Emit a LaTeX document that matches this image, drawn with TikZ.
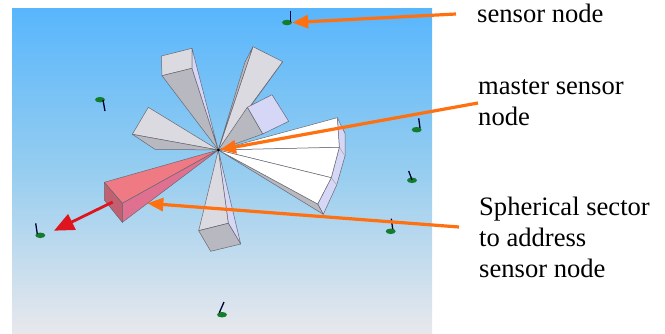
\documentclass[tikz,border=0pt]{standalone}
\usepackage{fontspec}
\setmainfont{Liberation Serif}
\usepackage{tikz}
\usetikzlibrary{arrows.meta,positioning,shapes.geometric}
\definecolor{cpoint}{RGB}{255,112,16}
\definecolor{cred}{RGB}{222,20,30}
\definecolor{cgreen}{RGB}{20,125,45}
\definecolor{cedge}{RGB}{105,105,115}
\definecolor{clight}{RGB}{218,218,224}
\definecolor{cdark}{RGB}{184,184,192}
\definecolor{cside}{RGB}{214,214,246}
\definecolor{skytop}{RGB}{88,182,252}
\definecolor{skymid}{RGB}{150,205,240}
\definecolor{skylow}{RGB}{232,232,236}
\tikzset{
  sky/.style={top color=skytop, bottom color=skylow, middle color=skymid, draw=none},
  ptarr/.style={-{Triangle[length=16pt,width=13pt]}, cpoint, line width=3.2pt},
  beam/.style={-{Triangle[length=20pt,width=17pt]}, cred, line width=2.8pt},
  lbl/.style={font=\fontsize{26.6}{31}\selectfont, align=left, anchor=west, inner sep=0pt},
  snode/.style={ellipse, fill=cgreen, inner sep=0pt, minimum width=10pt, minimum height=5.5pt},
  stem/.style={black!80!blue, line width=1.3pt},
  hubdot/.style={circle, fill=black, inner sep=0pt, minimum size=3pt},
  fl/.style={draw=cedge, line width=0.5pt, fill=clight, line join=round},
  fd/.style={fl, fill=cdark},
  fs/.style={fl, fill=cside},
  fw/.style={fl, fill=white},
}
\begin{document}
\begin{tikzpicture}[x=1pt,y=-1pt]
  \useasboundingbox (0,0) rectangle (665,333);
  \fill[sky] (12,8) rectangle (432,333);
  \coordinate (hub) at (218.3,150);
  % sectors around the master
  \draw[fl] (161.3,56) -- (192,48.3) -- (192,68.3) -- (162,75.7) -- cycle;
  \draw[fd] (hub) -- (162,75.7) -- (192,68.3) -- cycle;
  \draw[fs] (hub) -- (192,68.3) -- (192,48.3) -- cycle;
  \draw[fl] (hub) -- (253,46.7) -- (282.7,61.7) -- cycle;
  \draw[fd] (hub) -- (245,62) -- (253,46.7) -- cycle;
  \draw[fs] (hub) -- (282.7,61.7) -- (250,107) -- cycle;
  \draw[fs] (247.3,107.3) -- (272,94.7) -- (288.7,121.3) -- (262.7,134) -- cycle;
  \draw[fd] (hub) -- (247.3,107.3) -- (262.7,134) -- cycle;
  \draw[fl] (hub) -- (148.3,107.3) -- (132.3,134.3) -- cycle;
  \draw[fd] (hub) -- (132.3,134.3) -- (155,149.3) -- cycle;
  \draw[fs] (hub) -- (228.3,223.3) -- (240.7,244) -- cycle;
  \draw[fl] (hub) -- (198.7,230.7) -- (228.3,223.3) -- cycle;
  \draw[fd] (198.7,230.7) -- (228.3,223.3) -- (240.7,244) -- (210.7,251.3) -- cycle;
  % wide sector
  \draw[fs] (337.3,117.7) -- (345,133.3) -- (345,156) -- (336.7,185) -- (323.3,214.3) -- (317.7,204) -- (331.3,177.7) -- (339.3,147.3) -- cycle;
  \draw[cedge!60, line width=0.5pt] (339.3,147.3) -- (345,156) (331.3,177.7) -- (336.7,185);
  \draw[fd] (hub) -- (317.7,204) -- (323.3,214.3) -- cycle;
  \draw[fw] (hub) -- (337.3,117.7) -- (339.3,147.3) -- cycle;
  \draw[fw] (hub) -- (339.3,147.3) -- (331.3,177.7) -- cycle;
  \draw[fw] (hub) -- (331.3,177.7) -- (317.7,204) -- cycle;
  % addressed sector
  \draw[draw=cedge, line width=0.5pt, fill={rgb,255:red,239;green,122;blue,132}] (hub) -- (104.3,182.3) -- (122.3,203.3) -- cycle;
  \draw[draw=cedge, line width=0.5pt, fill={rgb,255:red,224;green,112;blue,143}] (hub) -- (122.3,203.3) -- (122.3,222.3) -- cycle;
  \draw[draw=cedge, line width=0.5pt, fill={rgb,255:red,192;green,96;blue,112}] (104.3,182.3) -- (122.3,203.3) -- (122.3,222.3) -- (104.3,200) -- cycle;
  \node[hubdot] (master) at (hub) {};
  % sensors
  \foreach \nm/\bx/\by/\tx/\ty/\ex/\ey in {
      sa/287/22.5/290.7/10.7/290.7/22,
      sb/100/99.7/105/111/103/100,
      sc/416.7/129.7/418.7/118.3/420/128,
      sd/412/180.3/408.7/171/412/180,
      se/390.7/231.3/391.3/218.7/392.7/229,
      sf/40.3/235.3/35.7/223.3/37.3/234,
      sg/222/314.7/224/302/219.3/312.7} {
    \node[snode] (\nm) at (\bx,\by) {};
    \coordinate (\nm top) at (\tx,\ty);
    \coordinate (\nm foot) at (\ex,\ey);
    \draw[stem] (\nm top) -- (\nm foot);
  }
  % labels
  \node[lbl] (lsensor) at (477,13) {sensor node};
  \node[lbl] (lmaster) at (478,102.5) {master sensor\\node};
  \node[lbl] (lsector) at (479,237) {Spherical sector\\to address\\sensor node};
  \coordinate (tsensor) at (456,14);
  \coordinate (tmaster) at (478,103);
  \coordinate (tsector) at (459,227);
  \coordinate (wsector) at (147.3,203.3);
  \coordinate (bstart) at (112.7,202);
  \coordinate (btip) at (54,230.7);
  \draw[beam] (bstart) -- (btip);
  \draw[ptarr] (tsensor) -- (sa.east);
  \draw[ptarr] (tmaster) -- (master);
  \draw[ptarr] (tsector) -- (wsector);
\end{tikzpicture}
\end{document}
